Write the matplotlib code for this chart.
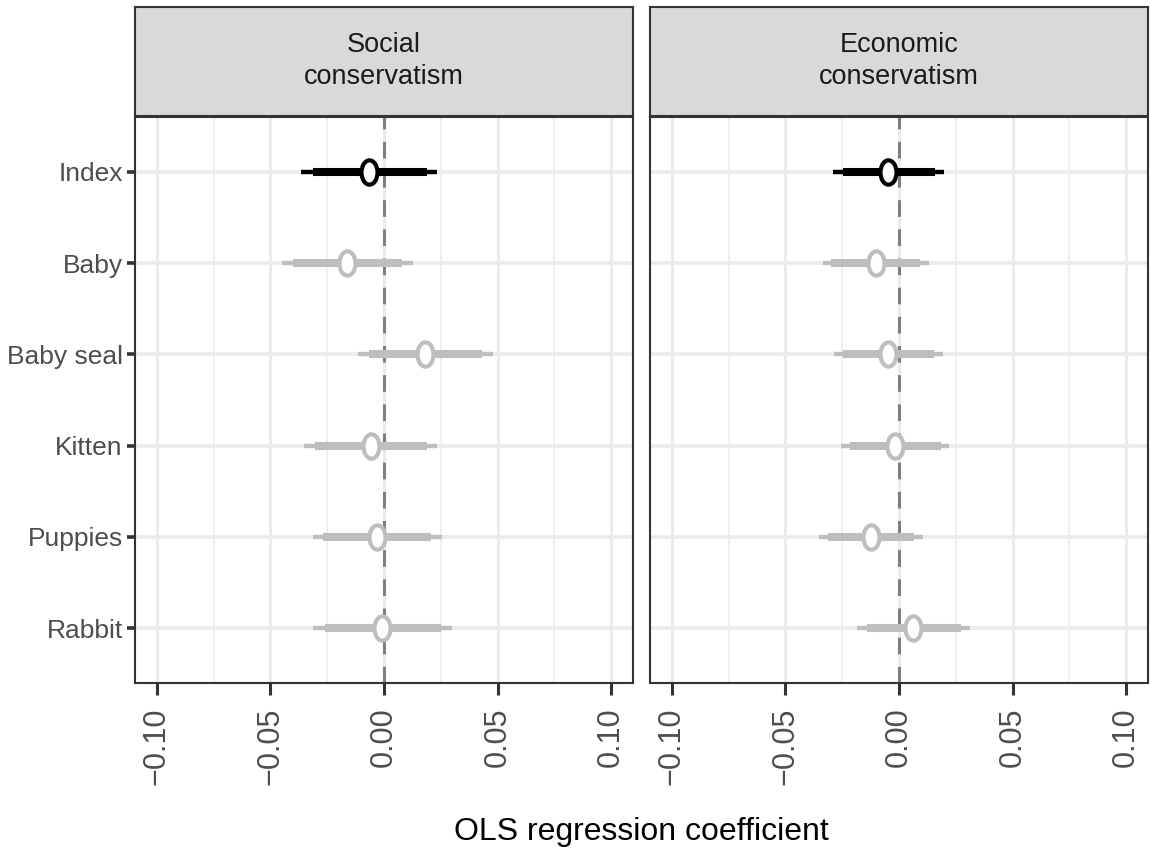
import numpy as np
import matplotlib
matplotlib.use("Agg")
import matplotlib.pyplot as plt
from matplotlib.path import Path

# coefficient estimates with 90% (thick) and 95% (thin) intervals
animals = ["Index", "Baby", "Baby seal", "Kitten", "Puppies", "Rabbit"]
panels = ["Social\nconservatism", "Economic\nconservatism"]

social_est = [-0.0065, -0.0161, 0.0180, -0.0059, -0.0032, -0.0007]
social_lo95 = [-0.0365, -0.0447, -0.0116, -0.0353, -0.0314, -0.0311]
social_hi95 = [0.0234, 0.0126, 0.0478, 0.0234, 0.0254, 0.0300]
social_lo90 = [-0.0314, -0.0399, -0.0067, -0.0303, -0.0267, -0.0259]
social_hi90 = [0.0188, 0.0080, 0.0430, 0.0188, 0.0207, 0.0251]

econ_est = [-0.0047, -0.0103, -0.0047, -0.0018, -0.0125, 0.0063]
econ_lo95 = [-0.0289, -0.0336, -0.0286, -0.0256, -0.0351, -0.0184]
econ_hi95 = [0.0198, 0.0131, 0.0195, 0.0222, 0.0104, 0.0313]
econ_lo90 = [-0.0248, -0.0300, -0.0245, -0.0216, -0.0311, -0.0142]
econ_hi90 = [0.0159, 0.0093, 0.0156, 0.0184, 0.0067, 0.0272]

xticks = [-0.10, -0.05, 0.00, 0.05, 0.10]
xminor = [-0.075, -0.025, 0.025, 0.075]

plt.rcParams["lines.scale_dashes"] = False
sans = ["Liberation Sans", "DejaVu Sans"]

# tall ellipse marker (open circle look)
circ = Path.unit_circle()
ellipse = Path(circ.vertices * np.array([0.66, 1.0]), circ.codes)

fig = plt.figure(figsize=(11.5, 8.52), dpi=100)
W, H = 1150, 852

data = [
    (social_est, social_lo95, social_hi95, social_lo90, social_hi90),
    (econ_est, econ_lo95, econ_hi95, econ_lo90, econ_hi90),
]
lefts = [135, 650]
ypos = np.arange(len(animals))

for i, (title, (est, lo95, hi95, lo90, hi90)) in enumerate(zip(panels, data)):
    ax = fig.add_axes([lefts[i] / W, (H - 683) / H, 498 / W, (683 - 117) / H])
    ax.set_xlim(-0.1096, 0.1096)
    ax.set_ylim(len(animals) - 0.4, -0.6)

    # grid
    for v in xminor:
        ax.axvline(v, color="#EBEBEB", lw=1.1, zorder=0)
    for v in xticks:
        ax.axvline(v, color="#EBEBEB", lw=2.2, zorder=0)
    for y in ypos:
        ax.axhline(y, color="#EBEBEB", lw=2.6, zorder=0)
    ax.axvline(0, color="#7F7F7F", lw=2.2, dashes=(12, 9), zorder=1)

    colors = ["black" if a == "Index" else "#BEBEBE" for a in animals]
    ax.hlines(ypos, lo95, hi95, colors=colors, lw=3.2, capstyle="butt", zorder=2)
    ax.hlines(ypos, lo90, hi90, colors=colors, lw=5.8, capstyle="butt", zorder=3)
    for y, e, c in zip(ypos, est, colors):
        ax.plot(e, y, marker=ellipse, ms=17.5, mew=3.0, mec=c, mfc="white",
                linestyle="none", zorder=4)

    ax.set_xticks(xticks)
    ax.set_xticklabels([f"{v:.2f}".replace("-", "\u2212") for v in xticks],
                       rotation=90, fontsize=22, color="#4D4D4D", family=sans)
    ax.tick_params(axis="x", length=8.6, width=2.2, color="#333333", pad=9)
    ax.set_yticks(ypos)
    if i == 0:
        ax.set_yticklabels(animals, fontsize=19, color="#4D4D4D", family=sans)
        ax.tick_params(axis="y", length=5.8, width=2.6, color="#333333", pad=3)
    else:
        ax.set_yticklabels([])
        ax.tick_params(axis="y", length=0)
    for s in ax.spines.values():
        s.set_color("#333333")
        s.set_linewidth(1.5)

    # facet strip
    sx = fig.add_axes([lefts[i] / W, (H - 116) / H, 498 / W, 109 / H])
    sx.set_facecolor("#D9D9D9")
    sx.set_xticks([])
    sx.set_yticks([])
    for s in sx.spines.values():
        s.set_color("#333333")
        s.set_linewidth(1.5)
    sx.text(0.5, 0.5, title, ha="center", va="center", fontsize=19.5,
            color="#1A1A1A", family=sans, linespacing=1.3,
            transform=sx.transAxes)

fig.text(641 / W, (H - 840) / H, "OLS regression coefficient", ha="center",
         va="baseline", fontsize=23, family=sans)

fig.savefig("out.png", dpi=100, facecolor="white")
